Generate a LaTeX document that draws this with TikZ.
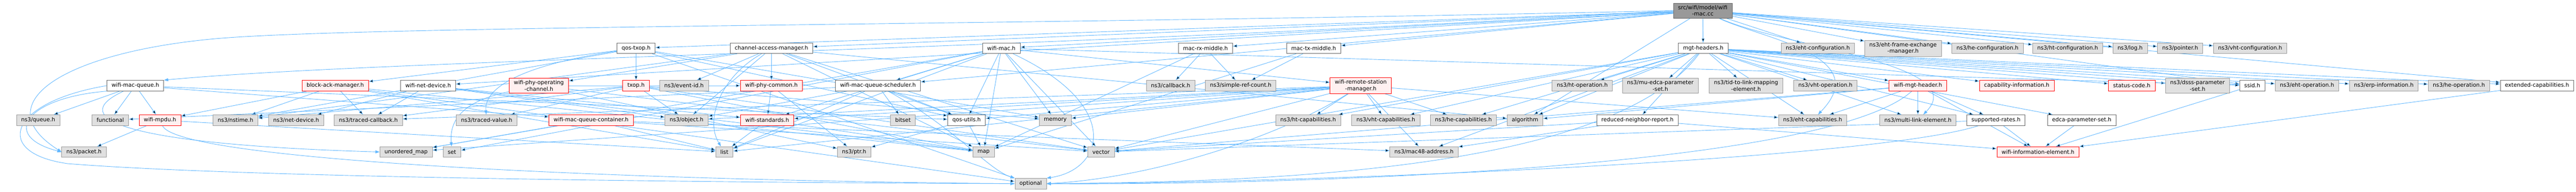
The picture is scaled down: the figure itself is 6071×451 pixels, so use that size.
\documentclass[tikz,border=0pt]{standalone}
\usepackage{fontspec}
\setmainfont{DejaVu Sans}
\usetikzlibrary{arrows.meta}
\pgfdeclarelayer{back}
\pgfsetlayers{back,main}
\definecolor{edgeblue}{HTML}{63B8FF}
\definecolor{boxgray}{HTML}{E0E0E0}
\definecolor{truncfill}{HTML}{FFF0F0}
\def \rowa {113.5}
\def \rowb {201.5}
\def \rowc {282.5}
\def \rowd {357.5}
\def \rowe {432}

\tikzset{
  file/.style={rectangle, line width=1pt, inner xsep=11pt, inner ysep=5pt,
    minimum height=25pt, align=center,
    font=\fontsize{12.9pt}{15pt}\selectfont},
  hdr/.style={file, draw=black!60, fill=white},
  sys/.style={file, draw=black!40, fill=boxgray},
  trunc/.style={file, draw=red, fill=truncfill},
  root/.style={file, draw=black!60, fill=black!40},
  dep/.style={draw=edgeblue, line width=1.1pt, -{Triangle[length=10pt,width=7pt]}}
}

\begin{document}
\begin{tikzpicture}[x=1pt,y=-1pt]
  \useasboundingbox (0,0) rectangle (6071,451);

  \node[root] (cc) at (4013,25) {src/wifi/model/wifi\\-mac.cc};

  \node[hdr] (qostxop) at (1499,\rowa) {qos-txop.h};
  \node[hdr] (cam) at (1818,\rowa) {channel-access-manager.h};
  \node[hdr] (wmach) at (2360,\rowa) {wifi-mac.h};
  \node[hdr] (rxmid) at (2841,\rowa) {mac-rx-middle.h};
  \node[hdr] (txmid) at (3096,\rowa) {mac-tx-middle.h};
  \node[hdr] (mgt) at (4014,\rowa) {mgt-headers.h};
  \node[sys] (ehtcfg) at (4284,\rowa) {ns3/eht-configuration.h};
  \node[sys] (ehtfem) at (4485,\rowa) {ns3/eht-frame-exchange\\-manager.h};
  \node[sys] (hecfg) at (4684,\rowa) {ns3/he-configuration.h};
  \node[sys] (htcfg) at (4873,\rowa) {ns3/ht-configuration.h};
  \node[sys] (log) at (5020,\rowa) {ns3/log.h};
  \node[sys] (pointer) at (5138,\rowa) {ns3/pointer.h};
  \node[sys] (vhtcfg) at (5303,\rowa) {ns3/vht-configuration.h};

  \node[hdr] (wmq) at (319,\rowb) {wifi-mac-queue.h};
  \node[trunc] (bam) at (790,\rowb) {block-ack-manager.h};
  \node[hdr] (wnd) at (1009,\rowb) {wifi-net-device.h};
  \node[trunc] (wpoc) at (1270,\rowb) {wifi-phy-operating\\-channel.h};
  \node[trunc] (txop) at (1499,\rowb) {txop.h};
  \node[sys] (eventid) at (1612,\rowb) {ns3/event-id.h};
  \node[trunc] (wpc) at (1818,\rowb) {wifi-phy-common.h};
  \node[hdr] (wmqs) at (2069,\rowb) {wifi-mac-queue-scheduler.h};
  \node[sys] (callback) at (2759,\rowb) {ns3/callback.h};
  \node[sys] (srcount) at (2924,\rowb) {ns3/simple-ref-count.h};
  \node[trunc] (wrsm) at (3207,\rowb) {wifi-remote-station\\-manager.h};
  \node[sys] (htop) at (3729,\rowb) {ns3/ht-operation.h};
  \node[sys] (muedca) at (3913,\rowb) {ns3/mu-edca-parameter\\-set.h};
  \node[sys] (tidlink) at (4115,\rowb) {ns3/tid-to-link-mapping\\-element.h};
  \node[sys] (vhtop) at (4302,\rowb) {ns3/vht-operation.h};
  \node[trunc] (wmgt) at (4520,\rowb) {wifi-mgt-header.h};
  \node[trunc] (capinfo) at (4753,\rowb) {capability-information.h};
  \node[trunc] (status) at (5024,\rowb) {status-code.h};
  \node[sys] (dsss) at (5179,\rowb) {ns3/dsss-parameter\\-set.h};
  \node[hdr] (ssid) at (5308,\rowb) {ssid.h};
  \node[sys] (ehtop) at (5437,\rowb) {ns3/eht-operation.h};
  \node[sys] (erp) at (5618,\rowb) {ns3/erp-information.h};
  \node[sys] (heop) at (5795,\rowb) {ns3/he-operation.h};
  \node[hdr] (extcap) at (5979,\rowb) {extended-capabilities.h};

  \node[sys] (queue) at (90,\rowc) {ns3/queue.h};
  \node[sys] (functional) at (260,\rowc) {functional};
  \node[trunc] (mpdu) at (377,\rowc) {wifi-mpdu.h};
  \node[sys] (nstime) at (555,\rowc) {ns3/nstime.h};
  \node[sys] (netdev) at (698,\rowc) {ns3/net-device.h};
  \node[sys] (tcb) at (868,\rowc) {ns3/traced-callback.h};
  \node[sys] (tval) at (1147,\rowc) {ns3/traced-value.h};
  \node[trunc] (wmqc) at (1393,\rowc) {wifi-mac-queue-container.h};
  \node[sys] (object) at (1618,\rowc) {ns3/object.h};
  \node[trunc] (wstd) at (1808,\rowc) {wifi-standards.h};
  \node[sys] (bitset) at (2128,\rowc) {bitset};
  \node[hdr] (qosutils) at (2278,\rowc) {qos-utils.h};
  \node[sys] (memory) at (2487,\rowc) {memory};
  \node[sys] (htcap) at (3083,\rowc) {ns3/ht-capabilities.h};
  \node[sys] (vhtcap) at (3266,\rowc) {ns3/vht-capabilities.h};
  \node[sys] (hecap) at (3449,\rowc) {ns3/he-capabilities.h};
  \node[sys] (algorithm) at (3594,\rowc) {algorithm};
  \node[hdr] (rnr) at (3859,\rowc) {reduced-neighbor-report.h};
  \node[sys] (ehtcap) at (4272,\rowc) {ns3/eht-capabilities.h};
  \node[sys] (mle) at (4520,\rowc) {ns3/multi-link-element.h};
  \node[hdr] (rates) at (4704,\rowc) {supported-rates.h};
  \node[hdr] (edca) at (4906,\rowc) {edca-parameter-set.h};

  \node[sys] (packet) at (198,\rowd) {ns3/packet.h};
  \node[sys] (umap) at (957,\rowd) {unordered\_map};
  \node[sys] (set) at (1065,\rowd) {set};
  \node[sys] (list) at (1707,\rowd) {list};
  \node[sys] (ptr) at (2013,\rowd) {ns3/ptr.h};
  \node[sys] (map) at (2318,\rowd) {map};
  \node[sys] (vector) at (2595,\rowd) {vector};
  \node[sys] (mac48) at (3356,\rowd) {ns3/mac48-address.h};
  \node[trunc] (wie) at (4803,\rowd) {wifi-information-element.h};

  \node[sys] (optional) at (2429,\rowe) {optional};

  \begin{pgfonlayer}{back}
    \path[dep] (cc) edge (mgt) edge (qostxop) edge (cam) edge (wmach) edge (rxmid)
      edge (txmid) edge (ehtcfg) edge (ehtfem) edge (hecfg) edge (htcfg) edge (log)
      edge (pointer) edge (vhtcfg) edge (wnd) edge (wmqs) edge (algorithm)
      edge (ssid) edge (extcap);
    \draw[dep] (cc) .. controls (4150,90) and (4420,130) .. (ehtcap);
    \draw[dep] (cc) .. controls (4200,110) and (4650,150) .. (mle);
    \draw[dep] (cc.west) .. controls (2400,60) and (900,60) .. (520,90)
      .. controls (160,120) and (-40,240) .. (packet.west);
    \draw[dep] (cc.west) .. controls (2400,120) and (900,140) .. (wmq.north east);

    \path[dep] (mgt) edge (htop) edge (muedca) edge (tidlink) edge (vhtop) edge (wmgt)
      edge (capinfo) edge (status) edge (dsss) edge (ssid) edge (ehtop) edge (erp)
      edge (heop) edge (extcap) edge (edca) edge (rates) edge (rnr) edge (htcap)
      edge (vhtcap) edge (hecap) edge (ehtcap) edge (mle) edge (mac48)
      edge (algorithm) edge (vector);
    \draw[dep] (mgt) .. controls (3800,400) and (3000,428) .. (optional.east);

    \path[dep] (wmgt) edge (ehtcap) edge (mle) edge (rates) edge (algorithm)
      edge (vector) edge (wie);
    \draw[dep] (wmgt) .. controls (4300,400) and (3000,436) .. (optional.east);
    \path[dep] (rates) edge (wie) edge (vector);
    \draw[dep] (rates) .. controls (4400,380) and (3000,432) .. (optional.east);
    \path[dep] (rnr) edge (wie) edge (mac48) edge (vector);
    \path[dep] (edca) edge (wie);
    \path[dep] (ssid) edge (wie);
    \path[dep] (extcap) edge (wie);

    \path[dep] (wrsm) edge (qosutils) edge (htcap) edge (vhtcap) edge (hecap)
      edge (ehtcap) edge (mac48) edge (tcb) edge (object) edge (memory) edge (list)
      edge (umap) edge (vector) edge (wstd);
    \draw[dep] (wrsm) .. controls (3000,330) and (2700,420) .. (optional.east);

    \path[dep] (wmach) edge (qosutils) edge (memory) edge (wrsm) edge (wmqs)
      edge (wstd) edge (list) edge (set) edge (umap) edge (vector) edge (ssid)
      edge (map);
    \draw[dep] (wmach) .. controls (2650,250) and (2600,400) .. (optional.north east);

    \path[dep] (cam) edge (eventid) edge (wpc) edge (nstime) edge (object)
      edge (map) edge (vector) edge (qosutils) edge (algorithm) edge (wpoc);
    \draw[dep] (cam) .. controls (1700,180) and (1660,280) .. (list);

    \path[dep] (qostxop) edge (bam) edge (txop) edge (qosutils) edge (nstime)
      edge (memory) edge (optional);
    \draw[dep] (qostxop) .. controls (1250,150) and (1140,200) .. (tval);

    \path[dep] (txop) edge (tcb) edge (tval) edge (object) edge (nstime) edge (map)
      edge (memory) edge (vector);
    \path[dep] (bam) edge (mpdu) edge (nstime) edge (tcb) edge (map) edge (list)
      edge (optional);
    \path[dep] (wnd) edge (netdev) edge (tcb) edge (wstd) edge (map) edge (object);
    \path[dep] (wpoc) edge (wpc) edge (vector) edge (ptr);
    \draw[dep] (wpoc) .. controls (1080,240) and (1060,290) .. (set);
    \path[dep] (wpc) edge (wstd) edge (ptr);
    \path[dep] (wstd) edge (list) edge (map);

    \path[dep] (wmqs) edge (bitset) edge (qosutils) edge (object) edge (functional)
      edge (list);
    \draw[dep] (wmqs) .. controls (2250,300) and (2330,400) .. (optional.north west);

    \path[dep] (wmq) edge (queue) edge (functional) edge (mpdu) edge (wmqc)
      edge (qosutils);
    \draw[dep] (wmq.south west) .. controls (60,230) and (0,320) .. (packet.west);
    \draw[dep] (wmq.west) .. controls (20,240) and (-20,360) .. (160,385)
      .. controls (600,420) and (1800,430) .. (optional.west);
    \draw[dep] (wmq) .. controls (150,280) and (300,340) .. (umap.west);

    \path[dep] (mpdu) edge (packet) edge (list);
    \draw[dep] (mpdu) .. controls (420,380) and (1500,425) .. (optional.west);
    \path[dep] (wmqc) edge (umap) edge (mac48) edge (list) edge (vector);
    \path[dep] (qosutils) edge (ptr) edge (map);
    \path[dep] (rxmid) edge (callback) edge (srcount) edge (map);
    \path[dep] (txmid) edge (srcount) edge (map);
  \end{pgfonlayer}
\end{tikzpicture}
\end{document}
